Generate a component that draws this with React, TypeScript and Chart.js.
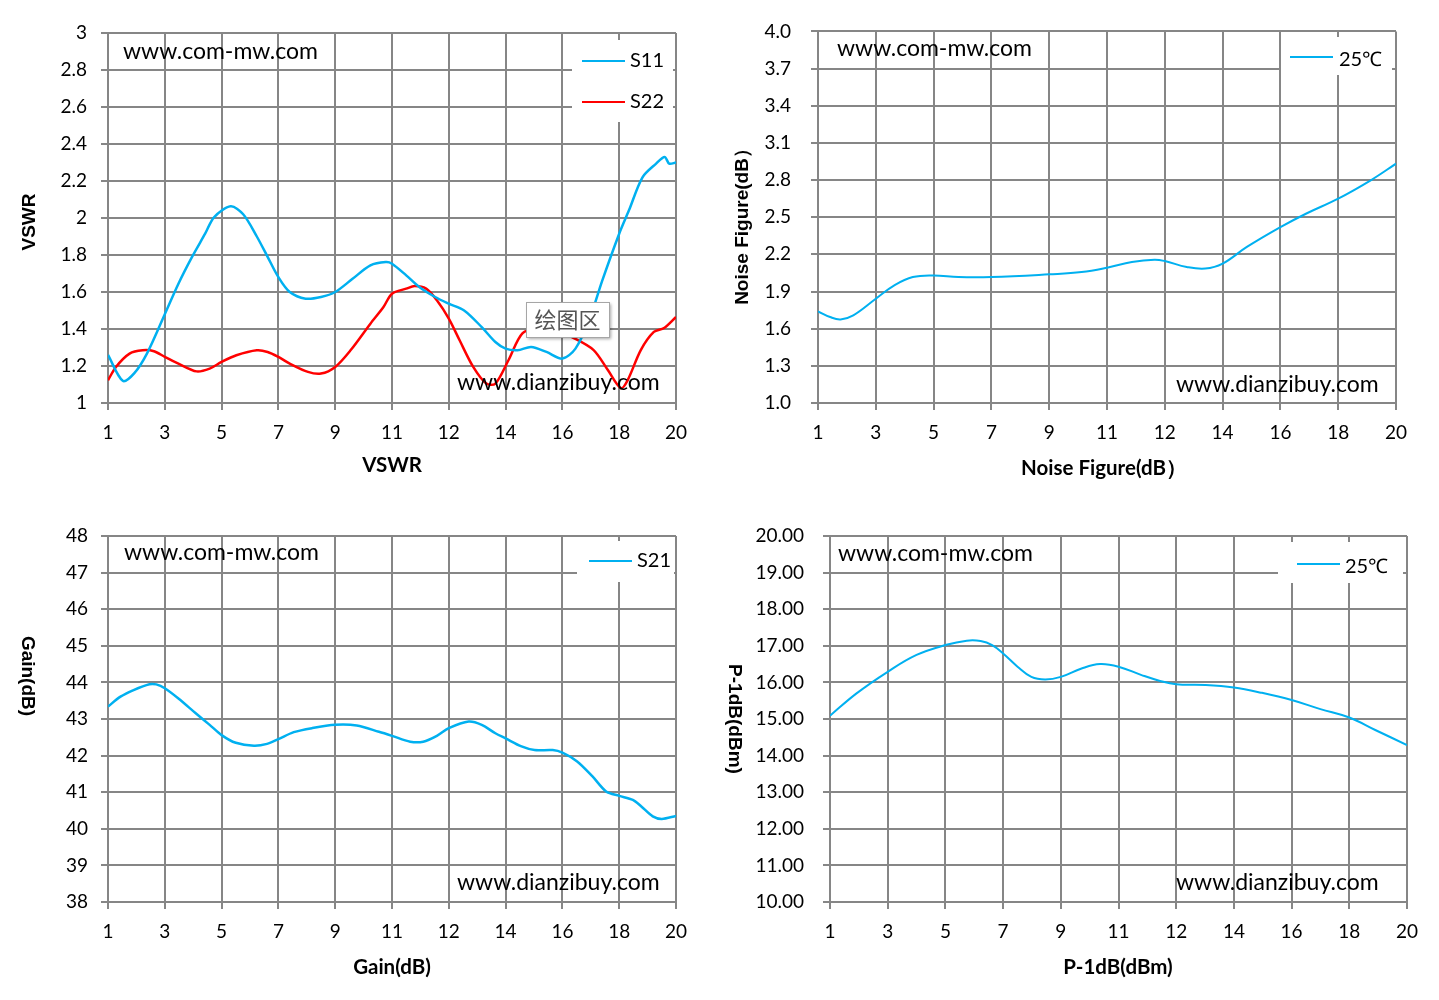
import React, { useEffect, useRef } from 'react';
import { Chart, registerables } from 'chart.js';

Chart.register(...registerables);

// frequency axis (Excel category-style labels, evenly spaced)
const FREQ_LABELS = ['1', '3', '5', '7', '9', '11', '12', '14', '16', '18', '20'];
const FREQ_TICKS = [0, 1, 2, 3, 4, 5, 6, 7, 8, 9, 10];

// VSWR
const VSWR_TICKS = [1, 1.2, 1.4, 1.6, 1.8, 2, 2.2, 2.4, 2.6, 2.8, 3];
const S11_X = [0, 0.26, 0.46, 0.69, 1.0, 1.24, 1.48, 1.71, 1.87, 2.16, 2.38, 2.62, 2.81, 3.0, 3.2, 3.48, 3.75, 4.0, 4.3, 4.62, 4.89, 5.0, 5.25, 5.48, 5.76, 6.0, 6.27, 6.58, 6.82, 7.0, 7.21, 7.45, 7.72, 8.0, 8.23, 8.47, 8.7, 9.0, 9.17, 9.41, 9.65, 9.8, 9.88, 10.0];
const S11_Y = [1.26, 1.12, 1.16, 1.27, 1.48, 1.645, 1.79, 1.915, 2.005, 2.063, 2.02, 1.9, 1.79, 1.68, 1.6, 1.564, 1.573, 1.6, 1.67, 1.744, 1.762, 1.753, 1.69, 1.627, 1.573, 1.537, 1.5, 1.41, 1.33, 1.294, 1.285, 1.303, 1.276, 1.24, 1.294, 1.447, 1.66, 1.915, 2.04, 2.22, 2.294, 2.33, 2.294, 2.3];
const S22_X = [0, 0.14, 0.38, 0.61, 0.81, 1.0, 1.24, 1.56, 1.79, 2.0, 2.26, 2.62, 2.81, 3.0, 3.2, 3.52, 3.75, 4.0, 4.27, 4.62, 4.85, 5.0, 5.25, 5.4, 5.6, 5.79, 6.0, 6.19, 6.43, 6.66, 6.82, 7.05, 7.3, 7.6, 7.9, 8.2, 8.55, 8.8, 9.03, 9.15, 9.38, 9.61, 9.79, 10.0];
const S22_Y = [1.123, 1.195, 1.267, 1.285, 1.28, 1.249, 1.213, 1.171, 1.186, 1.222, 1.258, 1.285, 1.276, 1.249, 1.213, 1.168, 1.159, 1.195, 1.285, 1.429, 1.519, 1.591, 1.618, 1.632, 1.618, 1.555, 1.456, 1.339, 1.195, 1.105, 1.105, 1.231, 1.378, 1.4, 1.39, 1.351, 1.286, 1.178, 1.08, 1.124, 1.286, 1.384, 1.405, 1.465];

// Noise figure
const NF_TICKS = [1.0, 1.3, 1.6, 1.9, 2.2, 2.5, 2.8, 3.1, 3.4, 3.7, 4.0];
const NF_X = [0, 0.21, 0.39, 0.61, 1.0, 1.32, 1.64, 2.0, 2.43, 3.0, 4.0, 4.56, 5.0, 5.43, 5.82, 6.0, 6.38, 6.7, 7.0, 7.42, 8.0, 8.45, 9.0, 9.57, 10.0];
const NF_Y = [1.74, 1.694, 1.675, 1.708, 1.842, 1.95, 2.017, 2.03, 2.017, 2.017, 2.039, 2.057, 2.092, 2.138, 2.157, 2.146, 2.098, 2.085, 2.125, 2.26, 2.42, 2.53, 2.65, 2.8, 2.932];

// Gain
const GAIN_TICKS = [38, 39, 40, 41, 42, 43, 44, 45, 46, 47, 48];
const S21_X = [0, 0.22, 0.45, 0.73, 0.85, 1.0, 1.24, 1.55, 1.79, 2.0, 2.25, 2.57, 2.8, 3.0, 3.27, 3.59, 4.0, 4.38, 4.77, 5.0, 5.32, 5.55, 5.79, 6.0, 6.35, 6.58, 6.82, 7.0, 7.28, 7.51, 7.83, 8.0, 8.26, 8.53, 8.77, 9.0, 9.24, 9.39, 9.59, 9.75, 10.0];
const S21_Y = [43.34, 43.61, 43.79, 43.95, 43.945, 43.84, 43.56, 43.15, 42.84, 42.56, 42.35, 42.27, 42.32, 42.45, 42.64, 42.75, 42.84, 42.82, 42.65, 42.54, 42.38, 42.38, 42.54, 42.75, 42.93, 42.84, 42.61, 42.47, 42.25, 42.15, 42.15, 42.08, 41.84, 41.43, 41.02, 40.9, 40.79, 40.61, 40.34, 40.27, 40.35];

// P-1dB
const P1DB_TICKS = [10, 11, 12, 13, 14, 15, 16, 17, 18, 19, 20];
const P1DB_X = [0, 0.46, 1.0, 1.5, 2.0, 2.37, 2.61, 2.81, 3.0, 3.25, 3.49, 3.73, 4.0, 4.36, 4.68, 5.0, 5.4, 5.72, 6.0, 6.51, 7.0, 7.47, 8.0, 8.5, 9.0, 9.45, 10.0];
const P1DB_Y = [15.09, 15.7, 16.29, 16.75, 17.02, 17.14, 17.13, 17.02, 16.79, 16.43, 16.15, 16.08, 16.15, 16.38, 16.5, 16.43, 16.2, 16.04, 15.95, 15.93, 15.86, 15.72, 15.52, 15.27, 15.04, 14.7, 14.29];

const BLUE = '#00B0F0';
const RED = '#FF0000';
const GRID = '#868686';
const FONT = "Lato, Carlito, Calibri, sans-serif";
const BOLD = "'Liberation Sans', Arial, sans-serif";

const pts = (xs: number[], ys: number[]) => xs.map((x, i) => ({ x, y: ys[i] }));

type Txt = { text: string; x: number; y: number; font: string; align?: CanvasTextAlign; rot?: number };
type Legend = { box: number[]; lineX: number[]; textX: number; rows: { y: number; ty: number }[] };

const annotate = {
  id: 'annotate',
  afterDraw(chart: any, _args: any, opts: any) {
    const { ctx } = chart;
    const [ox, oy] = opts.offset;
    ctx.save();
    ctx.translate(-ox, -oy);
    const lg: Legend = opts.legend;
    if (lg) {
      const [x1, y1, x2, y2] = lg.box;
      ctx.fillStyle = '#fff';
      ctx.fillRect(x1, y1, x2 - x1, y2 - y1);
      lg.rows.forEach((r, i) => {
        const ds = chart.data.datasets[i];
        ctx.strokeStyle = ds.borderColor;
        ctx.lineWidth = 2;
        ctx.beginPath();
        ctx.moveTo(lg.lineX[0], r.y);
        ctx.lineTo(lg.lineX[1], r.y);
        ctx.stroke();
        ctx.fillStyle = '#000';
        ctx.font = `20px ${FONT}`;
        ctx.textAlign = 'left';
        ctx.textBaseline = 'middle';
        ctx.fillText(ds.label, lg.textX, r.ty);
      });
    }
    if (opts.note) {
      const { x, y, w, h, text } = opts.note;
      ctx.save();
      ctx.shadowColor = 'rgba(0,0,0,0.35)';
      ctx.shadowOffsetX = 2;
      ctx.shadowOffsetY = 2;
      ctx.shadowBlur = 3;
      ctx.fillStyle = '#fff';
      ctx.fillRect(x, y, w, h);
      ctx.restore();
      ctx.strokeStyle = '#a6a6a6';
      ctx.lineWidth = 1;
      ctx.strokeRect(x + 0.5, y + 0.5, w, h);
      ctx.fillStyle = '#555';
      ctx.font = "22px 'Noto Sans CJK SC'";
      ctx.textAlign = 'center';
      ctx.textBaseline = 'middle';
      ctx.fillText(text, x + w / 2, y + h / 2);
    }
    (opts.texts as Txt[]).forEach((t) => {
      ctx.save();
      ctx.translate(t.x, t.y);
      if (t.rot) ctx.rotate(t.rot);
      ctx.fillStyle = '#000';
      ctx.font = t.font;
      ctx.textAlign = t.align || 'center';
      ctx.textBaseline = 'middle';
      ctx.fillText(t.text, 0, 0);
      ctx.restore();
    });
    ctx.restore();
  },
};

type PanelProps = {
  box: number[]; // page left, top, width, height
  area: number[]; // page chart-area left, top, right, bottom
  datasets: any[];
  yTicks: number[];
  yDec: number;
  yPad: number;
  texts: Txt[];
  legend: Legend;
  note?: any;
};

const Panel = ({ box, area, datasets, yTicks, yDec, yPad, texts, legend, note }: PanelProps) => {
  const ref = useRef<HTMLCanvasElement>(null);
  const [bx, by, bw, bh] = box;
  const [al, at, ar, ab] = area;

  useEffect(() => {
    if (!ref.current) return;
    const grid = { color: GRID, lineWidth: 2, tickLength: 7, drawTicks: true };
    const chart = new Chart(ref.current, {
      type: 'line',
      data: { datasets },
      plugins: [annotate],
      options: {
        responsive: false,
        animation: false,
        events: [],
        layout: { padding: { left: 0, top: at - by, right: bx + bw - ar, bottom: 0 } },
        elements: { point: { radius: 0 } },
        plugins: {
          legend: { display: false },
          tooltip: { enabled: false },
          annotate: { offset: [bx, by], texts, legend, note },
        } as any,
        scales: {
          x: {
            type: 'linear',
            min: 0,
            max: 10,
            grid,
            border: { color: GRID, width: 2 },
            afterBuildTicks: (s: any) => {
              s.ticks = FREQ_TICKS.map((v) => ({ value: v }));
            },
            afterFit: (s: any) => {
              s.height = by + bh - ab;
            },
            ticks: {
              autoSkip: false,
              maxRotation: 0,
              padding: 11,
              color: '#000',
              font: { family: FONT, size: 19 },
              callback: (v: any) => FREQ_LABELS[Math.round(v)],
            },
          },
          y: {
            min: yTicks[0],
            max: yTicks[yTicks.length - 1],
            grid,
            border: { color: GRID, width: 2 },
            afterBuildTicks: (s: any) => {
              s.ticks = yTicks.map((v) => ({ value: v }));
            },
            afterFit: (s: any) => {
              s.width = al - bx;
            },
            ticks: {
              padding: yPad,
              color: '#000',
              font: { family: FONT, size: 19 },
              callback: (v: any) => (yDec < 0 ? String(+(+v).toFixed(2)) : (+v).toFixed(yDec)),
            },
          },
        },
      } as any,
    });
    return () => chart.destroy();
  }, []);

  return (
    <canvas
      ref={ref}
      width={bw}
      height={bh}
      style={{ position: 'absolute', left: bx, top: by, width: bw, height: bh }}
    />
  );
};

const line = (label: string, color: string, xs: number[], ys: number[], width: number, tension: number) => ({
  label,
  data: pts(xs, ys),
  borderColor: color,
  backgroundColor: color,
  borderWidth: width,
  tension,
  fill: false,
});

const T = (text: string, x: number, y: number, font: string, align?: CanvasTextAlign, rot?: number): Txt => ({ text, x, y, font, align, rot });
const MARK = `23px ${FONT}`;
const XT = `bold 20.5px ${FONT}`;
const YT = `bold 19px ${BOLD}`;

export default function App() {
  return (
    <div style={{ position: 'fixed', left: 0, top: 0, width: 1439, height: 1000, background: '#fff' }}>
      <Panel
        box={[0, 0, 720, 500]}
        area={[108, 33, 676, 403]}
        datasets={[line('S11', BLUE, S11_X, S11_Y, 2.5, 0.3), line('S22', RED, S22_X, S22_Y, 2.5, 0.3)]}
        yTicks={VSWR_TICKS}
        yDec={-1}
        yPad={14}
        texts={[
          T('VSWR', 30, 222, YT, 'center', -Math.PI / 2),
          T('VSWR', 392, 465, XT),
          T('www.com-mw.com', 123, 52, MARK, 'left'),
          T('www.dianzibuy.com', 457, 383, MARK, 'left'),
        ]}
        legend={{ box: [572, 40, 673, 122], lineX: [582, 625], textX: 630, rows: [{ y: 61, ty: 61 }, { y: 102, ty: 102 }] }}
        note={{ x: 526, y: 302, w: 83, h: 35, text: '绘图区' }}
      />
      <Panel
        box={[720, 0, 719, 500]}
        area={[818, 31, 1396, 403]}
        datasets={[line('25℃', BLUE, NF_X, NF_Y, 2, 0.4)]}
        yTicks={NF_TICKS}
        yDec={1}
        yPad={20}
        texts={[
          T('Noise Figure(dB）', 743, 222, YT, 'center', -Math.PI / 2),
          T('Noise Figure(dB）', 1104, 468, XT),
          T('www.com-mw.com', 837, 49, MARK, 'left'),
          T('www.dianzibuy.com', 1176, 385, MARK, 'left'),
        ]}
        legend={{ box: [1281, 37, 1392, 75], lineX: [1290, 1333], textX: 1339, rows: [{ y: 57, ty: 60 }] }}
      />
      <Panel
        box={[0, 500, 720, 500]}
        area={[108, 536, 676, 902]}
        datasets={[line('S21', BLUE, S21_X, S21_Y, 2.5, 0.3)]}
        yTicks={GAIN_TICKS}
        yDec={0}
        yPad={13}
        texts={[
          T('Gain(dB)', 27, 676, YT, 'center', Math.PI / 2),
          T('Gain(dB)', 392, 967, XT),
          T('www.com-mw.com', 124, 553, MARK, 'left'),
          T('www.dianzibuy.com', 457, 883, MARK, 'left'),
        ]}
        legend={{ box: [577, 541, 674, 582], lineX: [589, 632], textX: 637, rows: [{ y: 561, ty: 561 }] }}
      />
      <Panel
        box={[720, 500, 719, 500]}
        area={[830, 536, 1407, 902]}
        datasets={[line('25℃', BLUE, P1DB_X, P1DB_Y, 2, 0.4)]}
        yTicks={P1DB_TICKS}
        yDec={2}
        yPad={19}
        texts={[
          T('P-1dB(dBm)', 734, 719, YT, 'center', Math.PI / 2),
          T('P-1dB(dBm)', 1118, 967, XT),
          T('www.com-mw.com', 838, 554, MARK, 'left'),
          T('www.dianzibuy.com', 1176, 883, MARK, 'left'),
        ]}
        legend={{ box: [1278, 542, 1403, 583], lineX: [1297, 1340], textX: 1345, rows: [{ y: 564, ty: 567 }] }}
      />
    </div>
  );
}
